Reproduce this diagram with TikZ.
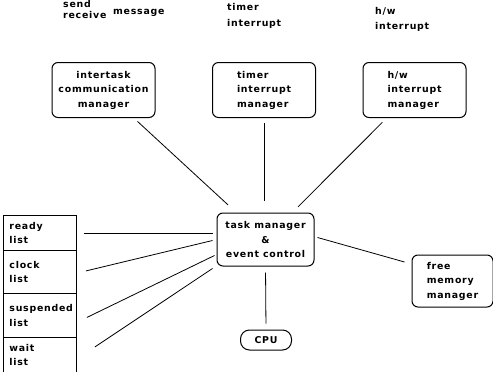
\documentclass[tikz,border=0pt]{standalone}
\usepackage{fontspec}
\setmainfont{DejaVu Sans}[LetterSpace=8]
\usetikzlibrary{calc,positioning}

\begin{document}
\begin{tikzpicture}[x=1pt,y=-1pt,
  font=\fontsize{9.4}{14.5}\selectfont\bfseries,
  mgr/.style={draw,line width=1pt,rounded corners=6pt,minimum width=103pt,minimum height=55pt,align=center},
  lst/.style={draw,line width=0.9pt,text width=61pt,inner xsep=6pt,align=left,anchor=north west},
  lab/.style={anchor=base west,inner sep=0pt},
  link/.style={line width=0.8pt}]
\useasboundingbox (0,0) rectangle (493,372);
% signals coming in from above
\node[lab] (send) at (63,8) {send};
\node[lab] (receive) at (63,18) {receive};
\node[lab] (message) at (113,14) {message};
\node[lab] (timerin) at (227,10) {timer};
\node[lab] (timerint) at (227,26) {interrupt};
\node[lab] (hwin) at (375,14) {h/w};
\node[lab] (hwint) at (375,30) {interrupt};
% managers
\node[mgr] (itc) at (103.5,90) {intertask\\communication\\manager};
\node[mgr,align=left] (tim) at (264,90) {timer\\interrupt\\manager};
\node[mgr,align=left] (hw) at (414.5,90) {h/w\\interrupt\\manager};
\node[mgr,minimum width=97pt,minimum height=53pt] (tm) at (265.5,239.5) {task manager\\\&\\event control};
\node[mgr,align=left,minimum width=81pt,minimum height=52pt] (fmm) at (452.5,281) {free\\memory\\manager};
\node[draw,line width=1pt,rounded corners=9pt,minimum width=51pt,minimum height=20pt,inner sep=2pt] (cpu) at (266,340) {CPU};
% lists
\node[lst,minimum height=35pt] (ready) at (3,215) {ready\\list};
\node[lst,minimum height=43pt] (clock) at (3,250) {clock\\list};
\node[lst,minimum height=44pt] (susp) at (3,293) {suspended\\list};
\node[lst,minimum height=35pt] (wait) at (3,337) {wait\\list};
% links
\draw[link,shorten <=5pt,shorten >=11pt] (itc) -- (tm);
\draw[link,shorten <=5pt,shorten >=12pt] (tim.south) -- (tim.south |- tm.north);
\draw[link,shorten <=6pt,shorten >=8pt] (hw) -- (tm);
\draw[link,shorten <=6pt,shorten >=6pt] (tm.south) -- (cpu.north);
\draw[link] ([xshift=3pt,yshift=2pt]tm.east) -- ([xshift=-7pt,yshift=19pt]fmm.west);
\draw[link] ([xshift=7pt]ready.east) -- ([xshift=-4pt]ready.east -| tm.west);
\draw[link] ([xshift=9pt,yshift=1pt]clock.east) -- ([xshift=-4pt,yshift=-1pt]tm.west);
\draw[link] ([xshift=10pt,yshift=-2pt]susp.east) -- ([xshift=-2pt,yshift=-16pt]tm.west);
\draw[link] ([xshift=18pt,yshift=8pt]wait.east) -- ([xshift=-4pt,yshift=-2pt]tm.south west);
\end{tikzpicture}
\end{document}
